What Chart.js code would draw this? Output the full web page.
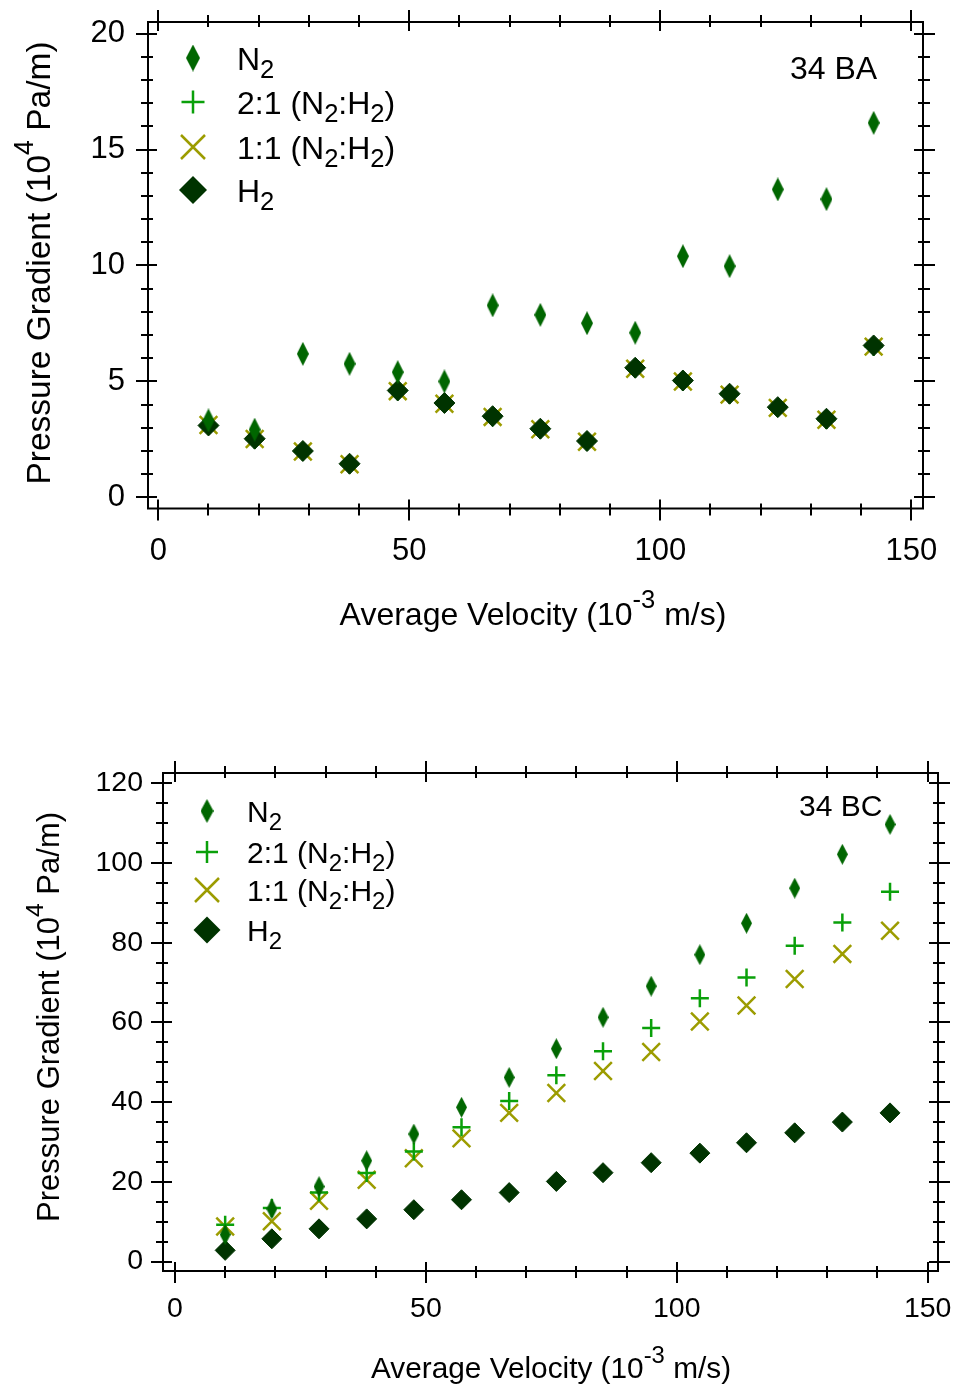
<!DOCTYPE html>
<html>
<head>
<meta charset="utf-8">
<script src="https://cdn.jsdelivr.net/npm/chart.js@4.4.1/dist/chart.umd.min.js"></script>
<style>
  html, body { margin: 0; padding: 0; background: #fff; }
  #wrap { position: relative; width: 955px; height: 1384px; }
  .box { position: absolute; left: 0; width: 955px; }
  #boxBA { top: 0; height: 690px; }
  #boxBC { top: 690px; height: 694px; }
</style>
</head>
<body>
<div id="wrap">
  <div class="box" id="boxBA"><canvas id="chartBA" width="955" height="690"></canvas></div>
  <div class="box" id="boxBC"><canvas id="chartBC" width="955" height="694"></canvas></div>
</div>
<script>
// ---- dados ----
// 34 BA
const velBA   = [10.0, 19.2, 28.8, 38.1, 47.7, 57.0, 66.6, 76.1, 85.4, 95.0, 104.5, 113.8, 123.4, 133.1, 142.5];
const n2BA    = [3.32, 2.92, 6.19, 5.76, 5.40, 5.00, 8.28, 7.87, 7.51, 7.10, 10.40, 9.97, 13.28, 12.86, 16.15];
const mix21BA = [3.08, 2.50, 1.97, 1.42, 4.58, 4.03, 3.46, 2.93, 2.40, 5.55, 5.00, 4.43, 3.85, 3.34, 6.50];
const mix11BA = [3.12, 2.52, 1.98, 1.43, 4.58, 4.04, 3.47, 2.94, 2.40, 5.55, 5.00, 4.43, 3.86, 3.35, 6.50];
const h2BA    = [3.10, 2.53, 2.00, 1.45, 4.61, 4.07, 3.50, 2.96, 2.43, 5.59, 5.04, 4.47, 3.89, 3.39, 6.55];

// 34 BC
const velBC   = [10.0, 19.3, 28.7, 38.2, 47.6, 57.1, 66.6, 76.0, 85.3, 94.9, 104.6, 113.9, 123.5, 133.0, 142.5];
const n2BC    = [6.75, 13.2, 18.8, 25.3, 32.0, 38.7, 46.2, 53.4, 61.3, 69.1, 77.0, 84.9, 93.7, 102.2, 109.7];
const mix21BC = [9.25, 13.4, 17.3, 22.2, 27.6, 33.7, 40.3, 46.75, 52.75, 58.6, 66.1, 71.3, 79.25, 85.1, 92.8];
const mix11BC = [8.8, 10.1, 15.25, 20.5, 25.9, 30.9, 37.3, 42.3, 47.8, 52.6, 60.25, 64.25, 70.9, 77.2, 83.0];
const h2BC    = [2.8, 5.7, 8.2, 10.7, 13.0, 15.5, 17.3, 20.1, 22.3, 24.8, 27.2, 29.8, 32.3, 35.0, 37.3];

// ticks
const xTicks   = [0, 50, 100, 150];
const yTicksBA = [0, 5, 10, 15, 20];
const yTicksBC = [0, 20, 40, 60, 80, 100, 120];

// textos (partes: 0 normal, 1 subscrito, 2 sobrescrito)
const legendLabels = [
  [['N', 0], ['2', 1]],
  [['2:1 (N', 0], ['2', 1], [':H', 0], ['2', 1], [')', 0]],
  [['1:1 (N', 0], ['2', 1], [':H', 0], ['2', 1], [')', 0]],
  [['H', 0], ['2', 1]]
];
const xTitle = [['Average Velocity (10', 0], ['-3', 2], [' m/s)', 0]];
const yTitle = [['Pressure Gradient (10', 0], ['4', 2], [' Pa/m)', 0]];

const FONT = '"Liberation Sans", Arial, sans-serif';
const colN2 = '#006600';
const col21 = '#0aa00a';
const col11 = '#9c9c00';
const colH2 = '#003300';

// losango estreito para o N2
function narrowDiamond(w, h, color) {
  const c = document.createElement('canvas');
  c.width = w; c.height = h;
  const g = c.getContext('2d');
  g.fillStyle = color;
  g.beginPath();
  g.moveTo(w / 2, 0);
  g.lineTo(w, h / 2);
  g.lineTo(w / 2, h);
  g.lineTo(0, h / 2);
  g.closePath();
  g.fill();
  return c;
}

function drawRich(ctx, parts, x, y, size, align) {
  const subSize = size * 0.8;
  let w = 0;
  parts.forEach(([t, k]) => {
    ctx.font = (k ? subSize : size) + 'px ' + FONT;
    w += ctx.measureText(t).width;
  });
  let cx = align === 'center' ? x - w / 2 : x;
  ctx.textAlign = 'left';
  ctx.textBaseline = 'alphabetic';
  parts.forEach(([t, k]) => {
    ctx.font = (k ? subSize : size) + 'px ' + FONT;
    const dy = k === 1 ? size * 0.28 : (k === 2 ? -size * 0.52 : 0);
    ctx.fillText(t, cx, y + dy);
    cx += ctx.measureText(t).width;
  });
}

function drawLegendMarker(ctx, i, x, y, g) {
  ctx.save();
  if (i === 0) {
    const img = narrowDiamond(g.legN2w, g.legN2h, colN2);
    ctx.drawImage(img, x - img.width / 2, y - img.height / 2);
  } else if (i === 1) {
    ctx.strokeStyle = col21; ctx.lineWidth = 2.5;
    ctx.beginPath();
    ctx.moveTo(x - g.legPlus, y); ctx.lineTo(x + g.legPlus, y);
    ctx.moveTo(x, y - g.legPlus); ctx.lineTo(x, y + g.legPlus);
    ctx.stroke();
  } else if (i === 2) {
    ctx.strokeStyle = col11; ctx.lineWidth = 2.5;
    const r = g.legX;
    ctx.beginPath();
    ctx.moveTo(x - r, y - r); ctx.lineTo(x + r, y + r);
    ctx.moveTo(x - r, y + r); ctx.lineTo(x + r, y - r);
    ctx.stroke();
  } else {
    ctx.fillStyle = colH2;
    const r = g.legH2;
    ctx.beginPath();
    ctx.moveTo(x, y - r); ctx.lineTo(x + r, y); ctx.lineTo(x, y + r); ctx.lineTo(x - r, y);
    ctx.closePath();
    ctx.fill();
  }
  ctx.restore();
}

// moldura estilo Igor com ticks cruzando o eixo
const framePlugin = {
  id: 'frame',
  beforeDatasetsDraw(chart) {
    const g = chart.options.plugins.frame;
    const { left, right, top, bottom } = chart.chartArea;
    const xs = chart.scales.x, ys = chart.scales.y;
    const ctx = chart.ctx;
    ctx.save();
    ctx.strokeStyle = '#000';
    ctx.lineWidth = 2;
    ctx.beginPath();
    ctx.rect(left, top, right - left, bottom - top);
    ctx.stroke();

    ctx.beginPath();
    for (let v = 0; v <= 150; v += 10) {
      const major = v % 50 === 0;
      const px = Math.round(xs.getPixelForValue(v));
      const inn = major ? 9 : 5, out = major ? 12 : 7;
      ctx.moveTo(px, bottom - inn); ctx.lineTo(px, bottom + out);
      ctx.moveTo(px, top + inn); ctx.lineTo(px, top - out);
    }
    for (let v = 0; v <= g.yMax; v += g.yMinor) {
      const major = Math.abs(v % g.yMajor) < 1e-9;
      const py = Math.round(ys.getPixelForValue(v));
      const inn = major ? 9 : 5, out = major ? 12 : 7;
      ctx.moveTo(left + inn, py); ctx.lineTo(left - out, py);
      ctx.moveTo(right - inn, py); ctx.lineTo(right + out, py);
    }
    ctx.stroke();
    ctx.restore();
  },
  afterDraw(chart) {
    const g = chart.options.plugins.frame;
    const ctx = chart.ctx;
    ctx.save();
    ctx.fillStyle = '#000';

    // legenda
    legendLabels.forEach((parts, i) => {
      const y = g.legRows[i];
      drawLegendMarker(ctx, i, g.legMarkX, y, g);
      drawRich(ctx, parts, g.legTextX, y + g.legFont * 0.36, g.legFont, 'left');
    });

    // rótulo da amostra
    ctx.font = g.tagFont + 'px ' + FONT;
    ctx.textAlign = 'left';
    ctx.textBaseline = 'alphabetic';
    ctx.fillText(g.tag, g.tagX, g.tagY);

    // títulos dos eixos
    drawRich(ctx, xTitle, g.xTitleX, g.xTitleY, g.xTitleFont, 'center');
    ctx.save();
    ctx.translate(g.yTitleX, g.yTitleY);
    ctx.rotate(-Math.PI / 2);
    drawRich(ctx, yTitle, 0, 0, g.yTitleFont, 'center');
    ctx.restore();

    ctx.restore();
  }
};

// tira o espaço extra que o Chart.js reserva para os rótulos nas pontas
function noEdgePadding(s) {
  s.paddingLeft = 0; s.paddingRight = 0; s.paddingTop = 0; s.paddingBottom = 0;
}

function makeChart(id, vel, series, geo) {
  const diamond = narrowDiamond(geo.n2w, geo.n2h, colN2);
  const pts = arr => arr.map((v, i) => ({ x: vel[i], y: v }));
  return new Chart(document.getElementById(id), {
    type: 'scatter',
    data: {
      datasets: [
        { label: 'N2', data: pts(series.n2), pointStyle: diamond, pointRadius: geo.n2h / 2,
          backgroundColor: colN2, borderColor: colN2, order: 0 },
        { label: '2:1 (N2:H2)', data: pts(series.mix21), pointStyle: 'cross', pointRadius: geo.plus,
          borderColor: col21, backgroundColor: col21, borderWidth: 2.5, order: 2 },
        { label: '1:1 (N2:H2)', data: pts(series.mix11), pointStyle: 'crossRot', pointRadius: geo.cross,
          borderColor: col11, backgroundColor: col11, borderWidth: 2.5, order: 3 },
        { label: 'H2', data: pts(series.h2), pointStyle: 'rectRot', pointRadius: geo.h2,
          borderColor: colH2, backgroundColor: colH2, borderWidth: 1, order: 1 }
      ]
    },
    options: {
      responsive: false,
      animation: false,
      devicePixelRatio: 1,
      events: [],
      layout: { padding: geo.padding },
      clip: false,
      scales: {
        x: {
          type: 'linear', min: geo.xMin, max: geo.xMax,
          afterBuildTicks: s => { s.ticks = xTicks.map(v => ({ value: v })); },
          afterFit: s => { s.height = geo.xAxisH; noEdgePadding(s); },
          grid: { display: false, drawTicks: false },
          border: { display: false },
          ticks: { color: '#000', font: { family: FONT, size: geo.tickFont }, padding: geo.xTickPad, maxRotation: 0, autoSkip: false }
        },
        y: {
          type: 'linear', min: geo.yMin, max: geo.yMax,
          afterBuildTicks: s => { s.ticks = geo.yTicks.map(v => ({ value: v })); },
          afterFit: s => { s.width = geo.yAxisW; noEdgePadding(s); },
          grid: { display: false, drawTicks: false },
          border: { display: false },
          ticks: { color: '#000', font: { family: FONT, size: geo.tickFont }, padding: geo.yTickPad }
        }
      },
      plugins: {
        legend: { display: false },
        tooltip: { enabled: false },
        frame: geo.frame
      }
    },
    plugins: [framePlugin]
  });
}

makeChart('chartBA', velBA, { n2: n2BA, mix21: mix21BA, mix11: mix11BA, h2: h2BA }, {
  xMin: -2.05, xMax: 152.33, yMin: -0.48, yMax: 20.5,
  yTicks: yTicksBA,
  padding: { left: 0, top: 22, right: 32, bottom: 101.5 },
  xAxisH: 80, yAxisW: 148,
  tickFont: 31, xTickPad: 24, yTickPad: 23,
  n2w: 12, n2h: 24, plus: 9, cross: 12.5, h2: 10.5,
  frame: {
    yMax: 20, yMinor: 1, yMajor: 5,
    legRows: [58, 102, 147, 190], legMarkX: 193, legTextX: 237, legFont: 32,
    legN2w: 14, legN2h: 27, legPlus: 11.5, legX: 12, legH2: 14,
    tag: '34 BA', tagX: 790, tagY: 79, tagFont: 32,
    xTitleFont: 32, yTitleFont: 33.5,
    xTitleX: 533, xTitleY: 625, yTitleX: 50, yTitleY: 263
  }
});

makeChart('chartBC', velBC, { n2: n2BC, mix21: mix21BC, mix11: mix11BC, h2: h2BC }, {
  xMin: -2.39, xMax: 152.06, yMin: -2.38, yMax: 122.6,
  yTicks: yTicksBC,
  padding: { left: 0, top: 83, right: 17, bottom: 33 },
  xAxisH: 80, yAxisW: 163,
  tickFont: 28.5, xTickPad: 21, yTickPad: 20,
  n2w: 11, n2h: 21, plus: 9, cross: 12.5, h2: 10,
  frame: {
    yMax: 120, yMinor: 5, yMajor: 20,
    legRows: [121, 162, 200, 240], legMarkX: 207, legTextX: 247, legFont: 30,
    legN2w: 13, legN2h: 24, legPlus: 11, legX: 12, legH2: 13.5,
    tag: '34 BC', tagX: 799, tagY: 126, tagFont: 30,
    xTitleFont: 29.8, yTitleFont: 31,
    xTitleX: 551, xTitleY: 688, yTitleX: 59, yTitleY: 327
  }
});
</script>
</body>
</html>
